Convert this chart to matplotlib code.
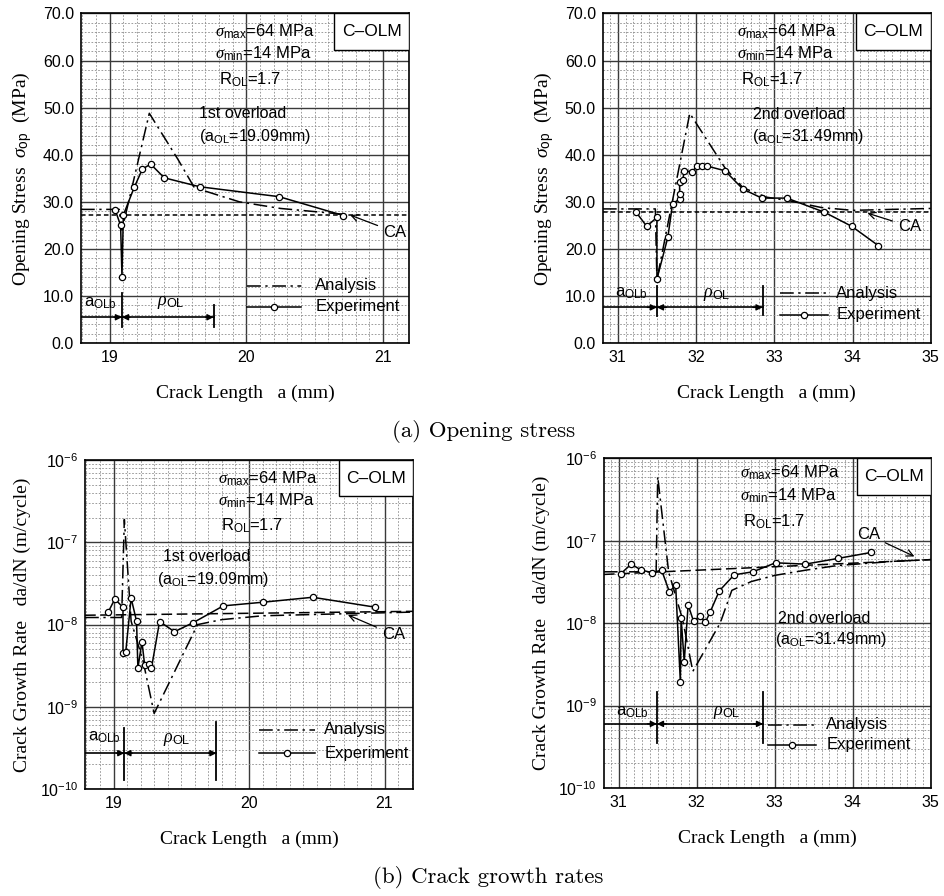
import numpy as np
import matplotlib
matplotlib.use("Agg")
import matplotlib.pyplot as plt
from matplotlib.patches import Rectangle
from matplotlib.ticker import MultipleLocator, FixedLocator, FormatStrFormatter, LogFormatterSciNotation, NullFormatter

plt.rcParams['font.family'] = ['Liberation Sans', 'DejaVu Sans']
plt.rcParams['mathtext.fontset'] = 'custom'
plt.rcParams['mathtext.rm'] = 'Liberation Sans'
plt.rcParams['mathtext.it'] = 'Liberation Serif:italic'
plt.rcParams['mathtext.bf'] = 'Liberation Sans:bold'

# ---- (a) opening stress, 1st overload (a_OL = 19.09 mm)
op1_exp_a = [19.04, 19.08, 19.09, 19.10, 19.18, 19.24, 19.30, 19.40, 19.66, 20.24, 20.71]
op1_exp_s = [28.3, 25.0, 14.1, 27.2, 33.1, 37.0, 38.0, 35.1, 33.2, 31.1, 27.1]
op1_ana_a = [18.79, 19.07, 19.09, 19.29, 19.50, 19.62, 19.95, 20.25, 20.70]
op1_ana_s = [28.4, 28.4, 24.0, 48.8, 39.0, 33.0, 30.0, 28.6, 27.4]
op1_ca = 27.3

# ---- (a) opening stress, 2nd overload (a_OL = 31.49 mm)
op2_exp_a = [31.23, 31.37, 31.50, 31.50, 31.64, 31.70, 31.79, 31.79, 31.79, 31.83, 31.85,
             31.95, 32.01, 32.08, 32.14, 32.37, 32.60, 32.84, 33.16, 33.64, 33.99, 34.33]
op2_exp_s = [27.9, 24.8, 26.7, 13.6, 22.5, 29.6, 30.6, 31.7, 34.3, 34.7, 36.6,
             36.4, 37.6, 37.6, 37.6, 36.6, 32.7, 30.8, 30.8, 27.8, 24.8, 20.7]
op2_ana_a = [30.81, 31.48, 31.50, 31.92, 32.37, 32.60, 32.90, 33.20, 33.60, 34.00, 34.50, 35.0]
op2_ana_s = [28.5, 28.5, 13.5, 48.8, 37.2, 33.0, 31.0, 30.2, 28.8, 28.2, 28.4, 28.6]
op2_ca = 27.9

# ---- (b) crack growth rate, 1st overload
gr1_exp_a = [18.96, 19.01, 19.07, 19.07, 19.09, 19.13, 19.17, 19.18, 19.21, 19.23, 19.26,
             19.28, 19.34, 19.45, 19.59, 19.81, 20.10, 20.47, 20.93]
gr1_exp_r = [1.41e-8, 2.05e-8, 1.62e-8, 4.5e-9, 4.6e-9, 2.1e-8, 1.1e-8, 2.95e-9, 6.2e-9,
             3.2e-9, 3.3e-9, 2.95e-9, 1.09e-8, 8.2e-9, 1.06e-8, 1.69e-8, 1.87e-8, 2.15e-8, 1.63e-8]
gr1_ana_a = [18.79, 19.06, 19.08, 19.13, 19.22, 19.30, 19.62, 19.80, 20.10, 20.50, 21.21]
gr1_ana_r = [1.22e-8, 1.22e-8, 1.9e-7, 1.1e-8, 3.5e-9, 8.3e-10, 1.0e-8, 1.15e-8, 1.28e-8, 1.33e-8, 1.42e-8]
gr1_ca_a = [18.79, 21.21]
gr1_ca_r = [1.3e-8, 1.45e-8]

# ---- (b) crack growth rate, 2nd overload
gr2_exp_a = [31.03, 31.16, 31.29, 31.43, 31.55, 31.65, 31.73, 31.79, 31.80, 31.84, 31.89,
             31.96, 32.04, 32.11, 32.17, 32.29, 32.48, 32.72, 33.01, 33.39, 33.81, 34.23]
gr2_exp_r = [4.0e-8, 5.2e-8, 4.4e-8, 4.1e-8, 4.4e-8, 2.4e-8, 2.9e-8, 1.96e-9, 1.15e-8, 3.4e-9,
             1.67e-8, 1.05e-8, 1.23e-8, 1.02e-8, 1.35e-8, 2.47e-8, 3.86e-8, 4.2e-8, 5.4e-8,
             5.2e-8, 6.1e-8, 7.2e-8]
gr2_ana_a = [30.81, 31.48, 31.50, 31.64, 31.82, 31.95, 32.30, 32.45, 32.70, 33.00, 33.40, 33.80, 34.50, 35.0]
gr2_ana_r = [4.2e-8, 4.2e-8, 6.0e-7, 4.2e-8, 1.1e-8, 2.6e-9, 1.0e-8, 2.5e-8, 3.2e-8, 3.8e-8,
             4.4e-8, 5.0e-8, 5.6e-8, 5.9e-8]
gr2_ca_a = [30.81, 35.0]
gr2_ca_r = [3.9e-8, 5.9e-8]

ANA_LS = (0, (9, 3, 1.5, 3))
CA_LS = (0, (3, 2))

fig = plt.figure(figsize=(9.45, 8.96), dpi=100)


def setup(ax, xlim, log):
    ax.set_xlim(*xlim)
    first = int(np.ceil(xlim[0]))
    ax.xaxis.set_major_locator(FixedLocator(np.arange(first, xlim[1] + 0.01, 1.0)))
    ax.xaxis.set_minor_locator(FixedLocator(np.arange(np.ceil(xlim[0] * 10) / 10, xlim[1], 0.1)))
    if log:
        ax.set_yscale('log')
        ax.set_ylim(1e-10, 1e-6)
        decades = 10.0 ** np.arange(-10, -5)
        ax.yaxis.set_major_locator(FixedLocator(decades))
        ax.yaxis.set_major_formatter(LogFormatterSciNotation())
        ax.yaxis.set_minor_locator(FixedLocator([m * d for d in decades[:-1] for m in range(2, 10)]))
        ax.yaxis.set_minor_formatter(NullFormatter())
        ax.set_ylabel('Crack Growth Rate   da/dN (m/cycle)', family='Liberation Serif',
                      fontsize=14, labelpad=6)
    else:
        ax.set_ylim(0, 70)
        ax.yaxis.set_major_locator(FixedLocator(np.arange(0, 71, 10)))
        ax.yaxis.set_minor_locator(FixedLocator(np.arange(0, 71, 2)))
        ax.yaxis.set_major_formatter(FormatStrFormatter('%.1f'))
        ax.set_ylabel(r'Opening Stress  $\sigma_{\mathrm{op}}$  (MPa)', family='Liberation Serif',
                      fontsize=14, labelpad=6)
    ax.xaxis.set_major_formatter(FormatStrFormatter('%d'))
    ax.grid(which='major', color='#3a3a3a', lw=1.0)
    ax.grid(which='minor', color='#8c8c8c', lw=0.6, ls=(0, (2, 2)))
    ax.set_axisbelow(True)
    ax.tick_params(which='both', length=0, labelsize=11.5, pad=5)
    for sp in ax.spines.values():
        sp.set_linewidth(1.2)
    ax.set_xlabel('Crack Length   a (mm)', family='Liberation Serif', fontsize=14, labelpad=14)


def info(ax, x, ys, overload, ol_xy):
    ax.text(x, ys[0], r'$\sigma_{\mathrm{max}}$=64 MPa', transform=ax.transAxes, fontsize=12, va='center')
    ax.text(x, ys[1], r'$\sigma_{\mathrm{min}}$=14 MPa', transform=ax.transAxes, fontsize=12, va='center')
    ax.text(x + 0.01, ys[2], r'R$_{\mathrm{OL}}$=1.7', transform=ax.transAxes, fontsize=12, va='center')
    ax.add_patch(Rectangle((0.773, 0.89), 0.227, 0.11, transform=ax.transAxes,
                           fc='white', ec='black', lw=1.0, zorder=3))
    ax.text(0.886, 0.945, 'C\u2013OLM', transform=ax.transAxes, fontsize=12.5,
            ha='center', va='center', zorder=4)
    line1, line2 = overload
    ax.text(ol_xy[0], ol_xy[1], line1, transform=ax.transAxes, fontsize=11.5, ha='center', va='center')
    ax.text(ol_xy[2], ol_xy[3], line2, transform=ax.transAxes, fontsize=11.5, ha='center', va='center')


def legend(ax, x0, x1, ytop, ybot, xt):
    ax.plot([x0, x1], [ytop, ytop], transform=ax.transAxes, color='k', lw=1.1, ls=ANA_LS)
    ax.plot([x0, x1], [ybot, ybot], transform=ax.transAxes, color='k', lw=1.1)
    ax.plot([(x0 + x1) / 2], [ybot], 'o', transform=ax.transAxes, ms=4.5, mfc='white', mec='k', mew=0.9)
    ax.text(xt, ytop, 'Analysis', transform=ax.transAxes, fontsize=12, va='center')
    ax.text(xt, ybot, 'Experiment', transform=ax.transAxes, fontsize=12, va='center')


def bracket(ax, xl, a_ol, a_end, y, tick1, tick2, lab, rho):
    ax.plot([xl, a_end], [y, y], color='k', lw=1.2)
    ax.plot([a_ol, a_ol], tick1, color='k', lw=1.3)
    ax.plot([a_end, a_end], tick2, color='k', lw=1.3)
    d = (a_end - xl) * 0.06
    kw = dict(arrowstyle='-|>', color='k', lw=1.0, mutation_scale=9, shrinkA=0, shrinkB=0)
    ax.annotate('', xy=(a_ol, y), xytext=(a_ol - d, y), arrowprops=kw)
    ax.annotate('', xy=(a_ol, y), xytext=(a_ol + d, y), arrowprops=kw)
    ax.annotate('', xy=(a_end, y), xytext=(a_end - d, y), arrowprops=kw)
    ax.text(lab[0], lab[1], r'a$_{\mathrm{OLb}}$', fontsize=12, va='center')
    ax.text(rho[0], rho[1], r'$\rho_{\mathrm{OL}}$', fontsize=13, va='center', ha='center')


def curves(ax, ea, ey, aa, ay):
    ax.plot(aa, ay, color='k', lw=1.1, ls=ANA_LS, zorder=4)
    ax.plot(ea, ey, color='k', lw=1.1, marker='o', ms=4.5, mfc='white', mec='k', mew=0.9, zorder=5)


# ---- top left
ax1 = fig.add_axes([0.0857, 0.617, 0.347, 0.368])
setup(ax1, (18.79, 21.19), False)
ax1.axhline(op1_ca, color='k', lw=1.1, ls=CA_LS, zorder=3)
curves(ax1, op1_exp_a, op1_exp_s, op1_ana_a, op1_ana_s)
info(ax1, 0.41, [0.944, 0.879, 0.80], ('1st overload', r'(a$_{\mathrm{OL}}$=19.09mm)'),
     (0.494, 0.697, 0.53, 0.626))
legend(ax1, 0.505, 0.67, 0.174, 0.111, 0.715)
bracket(ax1, 18.79, 19.09, 19.76, 5.5, (3.5, 10.6), (3.5, 8.2), (18.81, 8.4), (19.45, 8.6))
ax1.annotate('CA', xy=(20.76, 27.2), xytext=(21.0, 23.6), fontsize=12, ha='left', va='center',
             arrowprops=dict(arrowstyle='->', color='k', lw=0.9, shrinkA=2, shrinkB=0))

# ---- top right
ax2 = fig.add_axes([0.638, 0.617, 0.347, 0.368])
setup(ax2, (30.81, 35.0), False)
ax2.axhline(op2_ca, color='k', lw=1.1, ls=CA_LS, zorder=3)
curves(ax2, op2_exp_a, op2_exp_s, op2_ana_a, op2_ana_s)
info(ax2, 0.41, [0.944, 0.879, 0.80], ('2nd overload', r'(a$_{\mathrm{OL}}$=31.49mm)'),
     (0.60, 0.692, 0.625, 0.626))
legend(ax2, 0.54, 0.687, 0.152, 0.086, 0.712)
bracket(ax2, 30.81, 31.50, 32.85, 7.6, (5.8, 12.2), (6.0, 12.2), (30.97, 10.6), (32.27, 10.4))
ax2.annotate('CA', xy=(34.19, 27.6), xytext=(34.58, 24.8), fontsize=12, ha='left', va='center',
             arrowprops=dict(arrowstyle='->', color='k', lw=0.9, shrinkA=2, shrinkB=0))

# ---- bottom left
ax3 = fig.add_axes([0.090, 0.1194, 0.347, 0.367])
setup(ax3, (18.79, 21.21), True)
ax3.plot(gr1_ca_a, gr1_ca_r, color='k', lw=1.1, ls=(0, (7, 3)), zorder=3)
curves(ax3, gr1_exp_a, gr1_exp_r, gr1_ana_a, gr1_ana_r)
info(ax3, 0.405, [0.944, 0.877, 0.80], ('1st overload', r'(a$_{\mathrm{OL}}$=19.09mm)'),
     (0.37, 0.707, 0.39, 0.638))
legend(ax3, 0.53, 0.70, 0.18, 0.109, 0.73)
bracket(ax3, 18.79, 19.08, 19.76, 2.73e-10, (1.3e-10, 5.5e-10), (1.3e-10, 6.5e-10),
        (18.81, 4.2e-10), (19.47, 4.0e-10))
ax3.annotate('CA', xy=(20.73, 1.31e-8), xytext=(20.98, 7.6e-9), fontsize=12, ha='left', va='center',
             arrowprops=dict(arrowstyle='->', color='k', lw=0.9, shrinkA=2, shrinkB=0))

# ---- bottom right
ax4 = fig.add_axes([0.639, 0.1205, 0.346, 0.368])
setup(ax4, (30.81, 35.0), True)
ax4.plot(gr2_ca_a, gr2_ca_r, color='k', lw=1.1, ls=(0, (7, 3)), zorder=3)
curves(ax4, gr2_exp_a, gr2_exp_r, gr2_ana_a, gr2_ana_r)
info(ax4, 0.415, [0.955, 0.886, 0.808], ('2nd overload', r'(a$_{\mathrm{OL}}$=31.49mm)'),
     (0.675, 0.515, 0.696, 0.45))
legend(ax4, 0.502, 0.65, 0.192, 0.131, 0.68)
bracket(ax4, 30.81, 31.49, 32.85, 6.0e-10, (3.5e-10, 1.45e-9), (3.5e-10, 1.45e-9),
        (30.97, 8.3e-10), (32.38, 8.3e-10))
ax4.annotate('CA', xy=(34.79, 6.45e-8), xytext=(34.05, 1.18e-7), fontsize=12, ha='left', va='center',
             arrowprops=dict(arrowstyle='->', color='k', lw=0.9, shrinkA=2, shrinkB=0))

fig.text(0.512, 1 - 431 / 896, '(a) Opening stress', family='cmr10', fontsize=16.5, ha='center', va='center')
fig.text(0.517, 1 - 877 / 896, '(b) Crack growth rates', family='cmr10', fontsize=16.5, ha='center', va='center')

fig.savefig('out.png', dpi=100)
